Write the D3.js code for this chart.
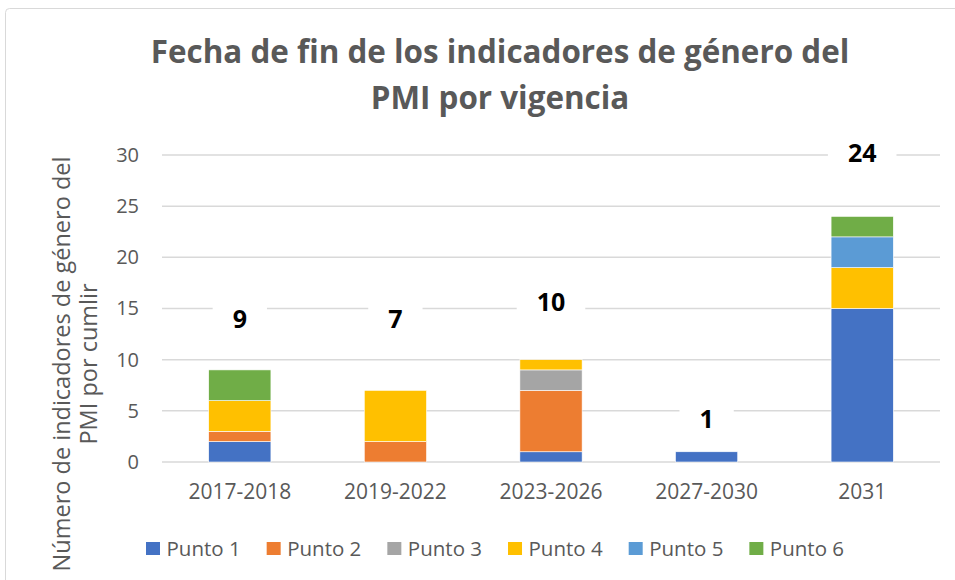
<!DOCTYPE html>
<html lang="es">
<head>
<meta charset="UTF-8">
<title>Fecha de fin de los indicadores</title>
<script src="https://cdnjs.cloudflare.com/ajax/libs/d3/7.8.5/d3.min.js"></script>
<style>
  body { margin: 0; background: #fff; }
  text { font-family: "Open Sans", sans-serif; }
</style>
</head>
<body>
<svg width="955" height="580"></svg>
<script>
"use strict";

const categories = ["2017-2018", "2019-2022", "2023-2026", "2027-2030", "2031"];
const seriesNames = ["Punto 1", "Punto 2", "Punto 3", "Punto 4", "Punto 5", "Punto 6"];
const punto1 = [2, 0, 1, 1, 15];
const punto2 = [1, 2, 6, 0, 0];
const punto3 = [0, 0, 2, 0, 0];
const punto4 = [3, 5, 1, 0, 4];
const punto5 = [0, 0, 0, 0, 3];
const punto6 = [3, 0, 0, 0, 2];
const totals = [9, 7, 10, 1, 24];
// where the total labels sit, in axis units
const totalLabelAt = [14, 14, 15.6, 4.2, 30.2];
const yTicks = [0, 5, 10, 15, 20, 25, 30];
const colors = ["#4472C4", "#ED7D31", "#A5A5A5", "#FFC000", "#5B9BD5", "#70AD47"];

const svg = d3.select("svg");

// chart frame
svg.append("rect")
    .attr("x", 5.5).attr("y", 8.5)
    .attr("width", 990).attr("height", 600)
    .attr("rx", 4)
    .attr("fill", "#fff")
    .attr("stroke", "#d9d9d9");

const rows = categories.map((c, i) => ({
    cat: c,
    "Punto 1": punto1[i], "Punto 2": punto2[i], "Punto 3": punto3[i],
    "Punto 4": punto4[i], "Punto 5": punto5[i], "Punto 6": punto6[i]
}));
const stacked = d3.stack().keys(seriesNames)(rows);

const x = d3.scaleBand().domain(categories).range([162, 940]).paddingInner(0.6).paddingOuter(0.3);
const y = d3.scaleLinear().domain([0, 30]).range([462, 155]);
const color = d3.scaleOrdinal().domain(seriesNames).range(colors);

// gridlines
svg.append("g")
    .selectAll("line")
    .data(yTicks)
    .join("line")
    .attr("x1", 162).attr("x2", 940)
    .attr("y1", d => y(d)).attr("y2", d => y(d))
    .attr("stroke", "#d9d9d9")
    .attr("stroke-width", 1.5);

// y axis labels
const yAxis = svg.append("g")
    .attr("transform", "translate(139,0)")
    .call(d3.axisLeft(y).tickValues(yTicks).tickSize(0).tickPadding(0));
yAxis.select(".domain").remove();
yAxis.selectAll("text")
    .attr("fill", "#595959")
    .style("font-size", "20px")
    .style("font-family", "'Open Sans', sans-serif");

// x axis labels
const xAxis = svg.append("g")
    .attr("transform", "translate(0,484)")
    .call(d3.axisBottom(x).tickSize(0).tickPadding(0));
xAxis.select(".domain").remove();
xAxis.selectAll("text")
    .attr("fill", "#595959")
    .attr("dy", "0.71em")
    .style("font-size", "21px")
    .style("font-family", "'Open Sans', sans-serif");

// bars
svg.append("g")
    .selectAll("g")
    .data(stacked)
    .join("g")
    .attr("fill", d => color(d.key))
    .selectAll("rect")
    .data(d => d.filter(s => s[1] - s[0] > 0))
    .join("rect")
    .attr("x", d => x(d.data.cat))
    .attr("width", x.bandwidth())
    .attr("y", d => y(d[1]))
    .attr("height", d => y(d[0]) - y(d[1]))
    .attr("stroke", "#fff")
    .attr("stroke-width", 0.6);

// totals with white boxes
const tot = svg.append("g")
    .selectAll("g")
    .data(categories)
    .join("g")
    .attr("transform", (c, i) => `translate(${x(c) + x.bandwidth() / 2},${y(totalLabelAt[i])})`);
const totBox = tot.append("rect")
    .attr("y", -16).attr("height", 32)
    .attr("fill", "#fff");
const totText = tot.append("text")
    .attr("text-anchor", "middle")
    .attr("dy", "0.36em")
    .attr("fill", "#000")
    .style("font-size", "25px")
    .style("font-weight", "bold")
    .text((c, i) => totals[i]);
totText.each(function (c, i) {
    const w = this.getComputedTextLength() + 40;
    d3.select(totBox.nodes()[i]).attr("x", -w / 2).attr("width", w);
});

// title
const title = svg.append("text")
    .attr("text-anchor", "middle")
    .attr("fill", "#595959")
    .style("font-size", "31.4px")
    .style("font-weight", "bold");
title.append("tspan").attr("x", 500).attr("y", 63).text("Fecha de fin de los indicadores de género del");
title.append("tspan").attr("x", 500).attr("y", 109).text("PMI por vigencia");

// y axis title
const yTitle = svg.append("text")
    .attr("transform", "translate(83,364) rotate(-90)")
    .attr("text-anchor", "middle")
    .attr("fill", "#595959")
    .style("font-size", "23.5px");
yTitle.append("tspan").attr("x", 0).attr("y", -13).text("Número de indicadores de género del");
yTitle.append("tspan").attr("x", 0).attr("y", 14).text("PMI por cumlir");

// legend
const legend = svg.append("g").attr("transform", "translate(0,548.5)");
let lx = 146;
seriesNames.forEach((name, i) => {
    const g = legend.append("g").attr("transform", `translate(${lx},0)`);
    g.append("rect").attr("x", 0).attr("y", -6.5).attr("width", 14).attr("height", 13).attr("fill", colors[i]);
    const t = g.append("text")
        .attr("x", 20.5).attr("dy", "0.36em")
        .attr("fill", "#595959")
        .style("font-size", "20.5px")
        .text(name);
    lx += 20.5 + t.node().getComputedTextLength() + 26;
});
</script>
</body>
</html>
